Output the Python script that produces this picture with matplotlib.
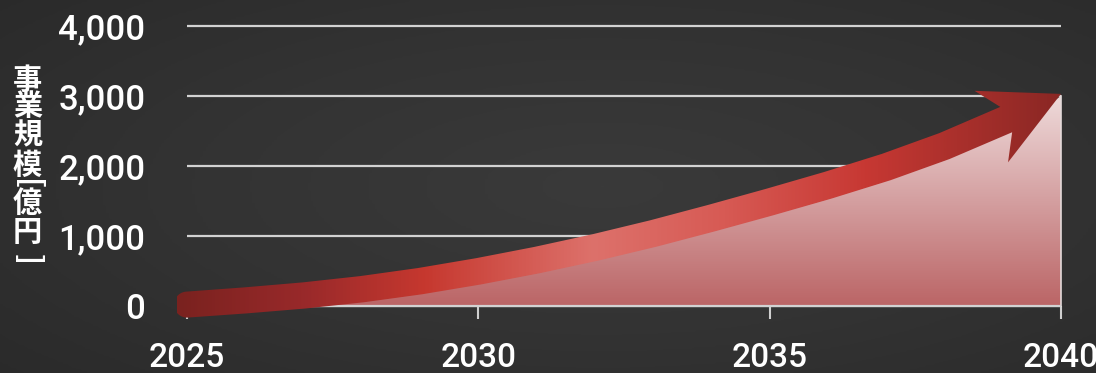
import numpy as np
import matplotlib
matplotlib.use('Agg')
import matplotlib.pyplot as plt
from matplotlib.colors import LinearSegmentedColormap
from matplotlib.patches import Polygon

# market size per year (100 million yen)
years = np.arange(2025, 2041)
market_size = [0, 10, 30, 60, 175, 315, 470, 650, 850, 1065, 1295, 1530, 1790, 2085, 2440, 3000]

# growth arrow drawn above the area
trend_years = np.arange(2025, 2040)
trend_values = [20, 80, 150, 240, 355, 495, 655, 835, 1035, 1255, 1485, 1725, 1985, 2285, 2640]
trend_tip = (2040, 3030)

x_ticks = [2025, 2030, 2035, 2040]
y_ticks = [0, 1000, 2000, 3000, 4000]
y_tick_labels = ['0', '1,000', '2,000', '3,000', '4,000']
# vertical axis title, one glyph per row; brackets are turned sideways
y_label_chars = ['事', '業', '規', '模', '[', '億', '円', ']']
y_label_rows = [79.5, 106, 135.5, 164.5, 185, 202.5, 231.5, 259]

W, H = 1096, 373
num_font = ['Roboto', 'DejaVu Sans']
cjk_font = ['Noto Sans CJK JP', 'DejaVu Sans']

fig = plt.figure(figsize=(W / 100, H / 100), dpi=100)
fig.patch.set_facecolor('#333333')

# dark background with a soft vignette
bg = fig.add_axes([0, 0, 1, 1], zorder=-10)
yy, xx = np.mgrid[0:1:200j, 0:1:400j]
r = np.sqrt(((xx - 0.55) / 0.75) ** 2 + ((yy - 0.5) / 0.8) ** 2)
bg_cmap = LinearSegmentedColormap.from_list('bg', ['#3a3a3a', '#333333', '#2a2a2a'])
bg.imshow(r, cmap=bg_cmap, extent=[0, 1, 0, 1], aspect='auto', vmin=0, vmax=1)
bg.axis('off')

ax = fig.add_axes([187 / W, 67 / H, 874 / W, 280 / H])
ax.patch.set_alpha(0)
for s in ax.spines.values():
    s.set_visible(False)

# horizontal grid
ax.hlines(y_ticks, 2025, 2040, colors='#d2d2d2', linewidth=1.6, zorder=1, clip_on=False)

# area with vertical gradient
area_cmap = LinearSegmentedColormap.from_list('area', ['#bb6566', '#d49fa0', '#eedada'])
grad = np.linspace(0, 1, 256).reshape(-1, 1)
im = ax.imshow(grad, cmap=area_cmap, extent=[2025, 2040, 0, max(market_size)],
               origin='lower', aspect='auto', zorder=2)
verts = list(zip(years, market_size)) + [(2040, 0), (2025, 0)]
area_patch = Polygon(verts, closed=True, facecolor='none', edgecolor='none', transform=ax.transData)
ax.add_patch(area_patch)
im.set_clip_path(area_patch)
ax.plot([2040, 2040], [0, market_size[-1]], color='#e4dada', linewidth=1.2, zorder=3, clip_on=False)
ax.hlines([0], 2025, 2040, colors='#d2d2d2', linewidth=1.6, zorder=3, clip_on=False)

ax.set_xlim(2025, 2040)
ax.set_ylim(0, 4000)
ax.set_xticks(x_ticks)
ax.set_xticklabels([str(x) for x in x_ticks])
ax.set_yticks(y_ticks)
ax.set_yticklabels(y_tick_labels)
ax.tick_params(axis='x', direction='out', length=9, width=1.5, color='#cfcfcf',
               labelsize=24, labelcolor='white', pad=17)
ax.tick_params(axis='y', length=0, labelsize=25, labelcolor='white', pad=30)
for lab in ax.get_xticklabels() + ax.get_yticklabels():
    lab.set_family(num_font)
    lab.set_fontweight('medium')

for ch, row in zip(y_label_chars, y_label_rows):
    rot = -90 if ch in '[]' else 0
    fig.text(27.5 / W, 1 - row / H, ch, ha='center', va='center', rotation=rot,
             fontsize=21, color='white', fontweight='bold', family=cjk_font)

# arrow, built in pixel space from the trend values
ov = fig.add_axes([0, 0, 1, 1], zorder=5)
ov.set_xlim(0, W)
ov.set_ylim(0, H)
ov.axis('off')
ov.patch.set_alpha(0)

pts = ax.transData.transform(np.column_stack([trend_years, trend_values]))
tip = ax.transData.transform([trend_tip])[0]
d = tip - pts[-1]
d /= np.hypot(*d)
nrm_end = np.array([-d[1], d[0]])

head_len, head_half, notch_back = 77, 39.5, 60.5
shaft_start, shaft_end = 13, 14
notch = tip - notch_back * d
keep = [p for p in pts if np.dot(tip - p, d) > notch_back + 4]
shaft = np.vstack(keep + [notch])

seg = np.diff(shaft, axis=0)
seg /= np.hypot(seg[:, 0], seg[:, 1])[:, None]
tang = np.vstack([seg[0], seg[:-1] + seg[1:], d])
tang /= np.hypot(tang[:, 0], tang[:, 1])[:, None]
nrm = np.column_stack([-tang[:, 1], tang[:, 0]])
half = np.linspace(shaft_start, shaft_end, len(shaft))[:, None]
upper = shaft + half * nrm
lower = shaft - half * nrm

head = [tip - head_len * d + head_half * nrm_end, tip, tip - head_len * d - head_half * nrm_end]
# round cap at the start, swept from the lower edge round the back to the upper edge
a0 = np.arctan2(nrm[0, 1], nrm[0, 0])
arc = np.linspace(a0 + np.pi, a0, 40)
cap = shaft[0] + shaft_start * np.column_stack([np.cos(arc), np.sin(arc)])
outline = np.vstack([upper, head, lower[::-1], cap])
arrow_patch = Polygon(outline, closed=True, facecolor='none', edgecolor='none')
ov.add_patch(arrow_patch)

arrow_cmap = LinearSegmentedColormap.from_list('arrow', [
    (0.0, '#7a221f'), (0.14, '#98292a'), (0.28, '#c6382f'), (0.47, '#dd716b'),
    (0.62, '#d75a54'), (0.78, '#c73833'), (1.0, '#8a2724')])
xgrad = np.linspace(0, 1, 512).reshape(1, -1)
left_px = ax.transData.transform((2025, 0))[0]
right_px = ax.transData.transform((2040, 0))[0]
aim = ov.imshow(xgrad, cmap=arrow_cmap, extent=[left_px - 10, right_px, 0, H],
                aspect='auto', origin='lower', zorder=6)
aim.set_clip_path(arrow_patch)
ov.set_xlim(0, W)
ov.set_ylim(0, H)

fig.savefig('out.png', dpi=100, facecolor=fig.get_facecolor())
